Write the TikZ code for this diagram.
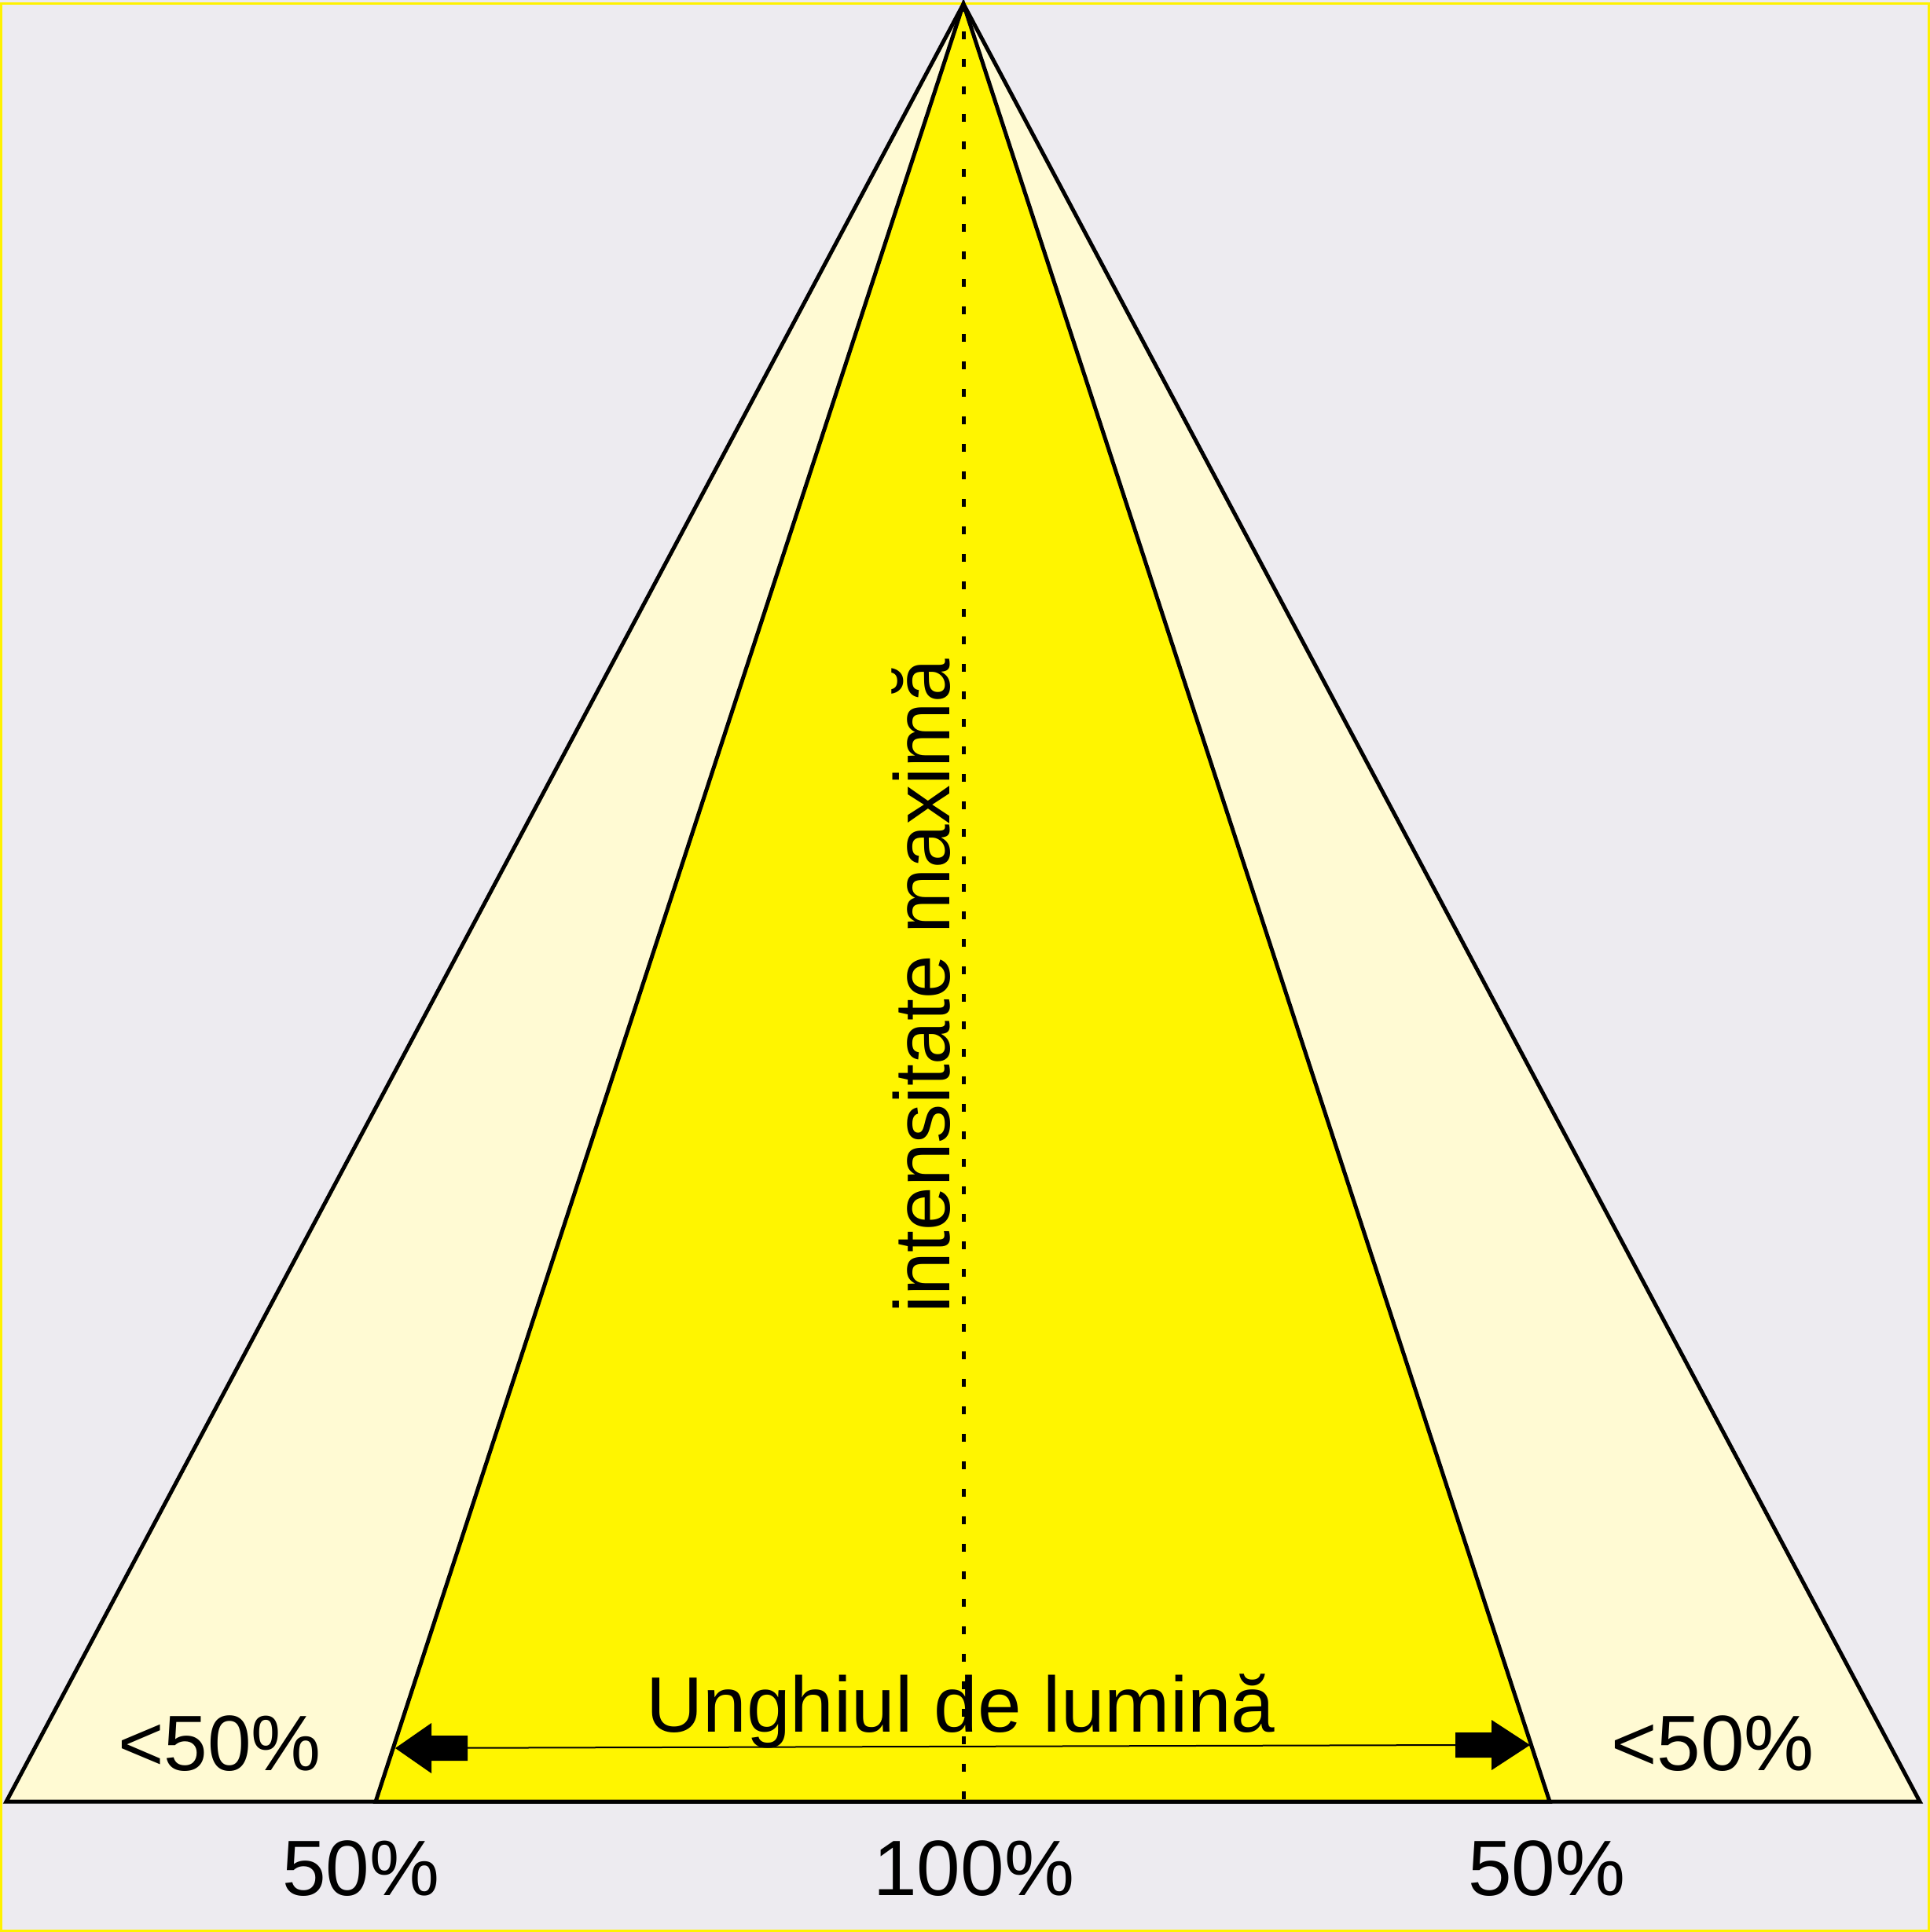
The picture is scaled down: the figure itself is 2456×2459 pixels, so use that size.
\documentclass[tikz,border=0pt]{standalone}
\usepackage{fontspec}
\setmainfont{Liberation Sans}
\definecolor{bgc}{HTML}{EDEBF0}
\definecolor{paley}{HTML}{FFFAD3}
\definecolor{brighty}{HTML}{FFF500}
\definecolor{framey}{HTML}{FFF200}
\begin{document}
\begin{tikzpicture}[x=1pt,y=-1pt,
  edge/.style={draw=black,line width=5pt,line join=miter},
  lbl/.style={inner sep=0pt,font=\fontsize{100}{120}\selectfont},
  head/.style={fill=black}]
\useasboundingbox (0,0) rectangle (2456,2459);
\fill[bgc] (0,0) rectangle (2456,2459);
\draw[framey,line width=3pt] (1.5,4.5) rectangle (2454.5,2457);
% geometry
\coordinate (apex) at (1226,5);
\coordinate (ol) at (8,2293);
\coordinate (or) at (2443,2293);
\coordinate (il) at (478,2293);
\coordinate (ir) at (1972,2293);
\coordinate (base) at (1226,2293);
% triangles
\path[edge,fill=paley] (ol) -- (apex) -- (or) -- cycle;
\path[edge,fill=brighty] (il) -- (apex) -- (ir) -- cycle;
% dotted axis
\draw[line width=5pt,dash pattern=on 10pt off 25pt] (apex) -- (base);
% width arrow
\coordinate (L) at (503,2225);
\coordinate (R) at (1947,2221);
\draw[line width=2pt] (595,2224.7) -- (1852,2221);
\fill[head] (L) -- (549,2193) -- (549,2209) -- (595,2209) -- (595,2241) -- (549,2241) -- (549,2257) -- cycle;
\fill[head] (R) -- (1898,2189) -- (1898,2205) -- (1852,2205) -- (1852,2237) -- (1898,2237) -- (1898,2253) -- cycle;
% labels
\node[lbl,anchor=base west] (ang) at (822,2204) {Unghiul de lumină};
\node[lbl,anchor=base west] (ltl) at (150,2253) {<50\%};
\node[lbl,anchor=base west] (ltr) at (2050,2253) {<50\%};
\node[lbl,anchor=base west] (pl) at (359,2412) {50\%};
\node[lbl,anchor=base west] (pc) at (1111,2412) {100\%};
\node[lbl,anchor=base west] (pr) at (1868,2412) {50\%};
\node[lbl,rotate=90,anchor=base east] (imax) at (1208,838) {intensitate maximă};
\end{tikzpicture}
\end{document}
